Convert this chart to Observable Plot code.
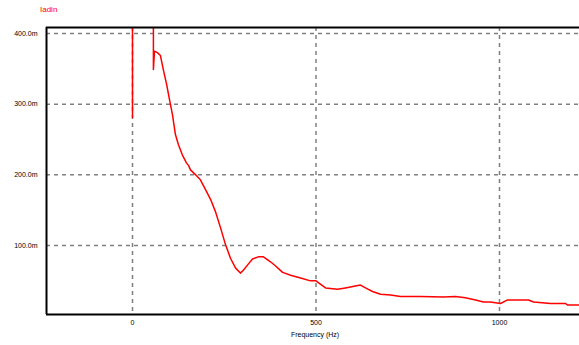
<!DOCTYPE html>
<html>
<head>
<meta charset="utf-8">
<script src="https://cdn.jsdelivr.net/npm/d3@7"></script>
<script src="https://cdn.jsdelivr.net/npm/@observablehq/plot@0.6"></script>
<style>
  html, body { margin: 0; padding: 0; background: #fff; }
  #wrap { position: relative; width: 579px; height: 345px; }
  #title { position: absolute; left: 40px; top: 5px; font: 8px Arial, "Liberation Sans", sans-serif; color: #ff0000; }
  #xlabel { position: absolute; left: 0; width: 630px; text-align: center; top: 331px; font: 7px Arial, "Liberation Sans", sans-serif; color: #000; }
</style>
</head>
<body>
<div id="wrap"><div id="title">Iadin</div><div id="xlabel">Frequency (Hz)</div></div>
<script>
// Trace: frequency (Hz) and current (mA); null breaks the line
const freq = [0, 0, null, 57, 57, 60, 68, 76, 84, 93, 101, 109, 117, 125, 136, 147, 153, 158, 172, 185, 199, 213, 226, 240, 253, 267, 281, 294, 302, 316, 327, 343, 357, 376, 390, 409, 431, 458, 485, 500, 526, 559, 580, 621, 635, 654, 676, 703, 730, 785, 847, 880, 907, 935, 956, 975, 1003, 1022, 1079, 1093, 1139, 1180, 1185, 1218];
const current = [281, 600, null, 600, 349, 375, 373, 369, 349, 328, 306, 285, 257, 243, 228, 217, 213, 207, 200, 193, 179, 165, 148, 125, 102, 82, 68, 61, 65, 74, 81, 84, 84, 77, 71, 62, 58, 54, 50, 50, 40, 38, 40, 44, 40, 35, 31, 30, 28, 28, 27, 28, 26, 23, 20, 20, 18, 23, 23, 20, 18, 18, 16, 16];
const xTicks = [0, 500, 1000];
const yTicks = [100, 200, 300, 400];
const xDomain = [-234.3, 1218];
const yDomain = [2.4, 408.5];

const data = freq.map((f, i) => ({f: f == null ? NaN : f, v: current[i] == null ? NaN : current[i]}));

const chart = Plot.plot({
  width: 579,
  height: 345,
  marginLeft: 46,
  marginRight: 0,
  marginTop: 27,
  marginBottom: 31,
  style: {fontFamily: "Arial, 'Liberation Sans', sans-serif", fontSize: "7px", background: "#fff", color: "#000"},
  x: {domain: xDomain, ticks: xTicks, tickSize: 0, tickPadding: 6, tickFormat: d => String(d), label: null},
  y: {domain: yDomain, ticks: yTicks, tickSize: 0, tickPadding: 9, tickFormat: d => d.toFixed(1) + "m", label: null},
  marks: [
    Plot.gridX(xTicks, {stroke: "#808080", strokeOpacity: 1, strokeWidth: 1.5, strokeDasharray: "4,4"}),
    Plot.gridY(yTicks, {stroke: "#808080", strokeOpacity: 1, strokeWidth: 1.5, strokeDasharray: "4,4"}),
    Plot.line(data, {x: "f", y: "v", stroke: "#ff0000", strokeWidth: 1.5, clip: true, curve: "linear"}),
    Plot.ruleY([yDomain[1], yDomain[0]], {stroke: "#000", strokeWidth: 2}),
    Plot.ruleX([xDomain[0]], {stroke: "#000", strokeWidth: 2})
  ]
});
document.getElementById("wrap").appendChild(chart);
</script>
</body>
</html>
